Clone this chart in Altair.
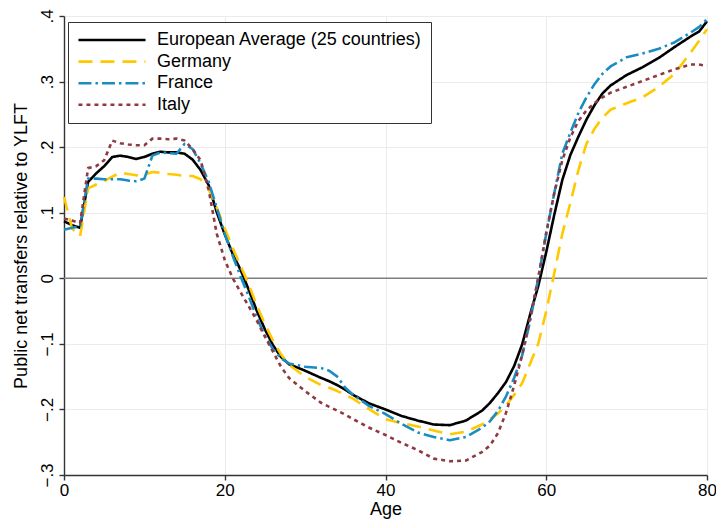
import altair as alt
import pandas as pd

# ---- data ----
ages = [0, 1, 2, 3, 4, 5, 6, 7, 8, 9, 10, 11, 12, 13, 14, 15, 16, 17, 18, 19, 20,
        21, 22, 23, 24, 25, 26, 27, 28, 30, 32, 33, 34, 35, 36, 38, 40, 42, 44, 46,
        48, 50, 52, 53, 54, 55, 56, 57, 58, 59, 60, 61, 62, 63, 64, 65, 66, 67, 68,
        70, 72, 74, 76, 78, 79, 80]

europe = [0.087, 0.081, 0.077, 0.147, 0.160, 0.171, 0.185, 0.187, 0.185, 0.182, 0.185,
          0.190, 0.193, 0.192, 0.192, 0.190, 0.181, 0.165, 0.142, 0.101, 0.067,
          0.037, 0.012, -0.018, -0.050, -0.078, -0.102, -0.120, -0.131, -0.141, -0.152,
          -0.157, -0.163, -0.170, -0.178, -0.191, -0.200, -0.210, -0.217, -0.223,
          -0.224, -0.217, -0.202, -0.190, -0.175, -0.158, -0.134, -0.101, -0.055, -0.012,
          0.040, 0.097, 0.150, 0.188, 0.216, 0.242, 0.264, 0.282, 0.294,
          0.310, 0.322, 0.336, 0.353, 0.369, 0.376, 0.392]

germany = [0.124, 0.076, 0.064, 0.137, 0.143, 0.148, 0.155, 0.161, 0.159, 0.157, 0.158,
           0.162, 0.161, 0.159, 0.158, 0.156, 0.156, 0.151, 0.136, 0.108, 0.076,
           0.046, 0.018, -0.010, -0.042, -0.070, -0.095, -0.116, -0.132, -0.150, -0.163,
           -0.167, -0.172, -0.178, -0.184, -0.200, -0.215, -0.221, -0.226, -0.232,
           -0.238, -0.234, -0.223, -0.215, -0.206, -0.194, -0.178, -0.160, -0.130, -0.100,
           -0.050, 0.008, 0.068, 0.115, 0.165, 0.205, 0.228, 0.245, 0.257,
           0.267, 0.276, 0.292, 0.312, 0.345, 0.362, 0.380]

france = [0.074, 0.077, 0.079, 0.152, 0.152, 0.151, 0.151, 0.151, 0.149, 0.148, 0.152,
          0.187, 0.192, 0.191, 0.190, 0.205, 0.197, 0.175, 0.147, 0.108, 0.068,
          0.034, 0.002, -0.028, -0.060, -0.088, -0.108, -0.122, -0.130, -0.135, -0.137,
          -0.141, -0.150, -0.167, -0.178, -0.195, -0.207, -0.222, -0.235, -0.242,
          -0.247, -0.242, -0.228, -0.218, -0.202, -0.180, -0.152, -0.118, -0.065, 0.000,
          0.068, 0.130, 0.190, 0.222, 0.252, 0.276, 0.296, 0.312, 0.323,
          0.337, 0.343, 0.350, 0.360, 0.375, 0.383, 0.395]

italy = [0.091, 0.088, 0.084, 0.168, 0.171, 0.180, 0.210, 0.206, 0.204, 0.203, 0.203,
         0.213, 0.213, 0.212, 0.213, 0.210, 0.197, 0.180, 0.135, 0.068, 0.028,
         0.000, -0.022, -0.043, -0.065, -0.089, -0.112, -0.135, -0.152, -0.172, -0.190,
         -0.196, -0.202, -0.208, -0.215, -0.228, -0.239, -0.251, -0.262, -0.275,
         -0.279, -0.278, -0.265, -0.255, -0.236, -0.205, -0.164, -0.117, -0.060, 0.000,
         0.070, 0.130, 0.180, 0.215, 0.240, 0.256, 0.267, 0.276, 0.283,
         0.292, 0.301, 0.310, 0.319, 0.326, 0.326, 0.324]

series_names = ["European Average (25 countries)", "Germany", "France", "Italy"]
x_ticks = [0, 20, 40, 60, 80]
y_ticks = [-0.3, -0.2, -0.1, 0.0, 0.1, 0.2, 0.3, 0.4]

# ---- styles ----
series_colors = ["#000000", "#FFC800", "#1A8CC4", "#8E3A42"]
series_dashes = [[1, 0], [14, 8], [13, 4, 2.5, 4], [4, 4]]
FONT = "Liberation Sans"

rows = []
for name, vals in zip(series_names, [europe, germany, france, italy]):
    for a, v in zip(ages, vals):
        rows.append({"age": a, "value": v, "series": name})
df = pd.DataFrame(rows)

legend = alt.Legend(
    title=None, orient="none", legendX=4, legendY=6,
    symbolType="stroke", symbolSize=4500, symbolStrokeWidth=2.6,
    clipHeight=18,
    labelFont=FONT, labelFontSize=18, labelColor="black", labelOffset=10,
    labelLimit=500, rowPadding=3.6, padding=9,
    strokeColor="#333333", fillColor="white",
)

x_enc = alt.X(
    "age:Q",
    scale=alt.Scale(domain=[0, 80], nice=False, zero=False),
    axis=alt.Axis(values=x_ticks, title="Age", labelPadding=2, titlePadding=2,
                  labelFlush=False, format="d"),
)
y_enc = alt.Y(
    "value:Q",
    scale=alt.Scale(domain=[-0.3, 0.4], nice=False, zero=False),
    axis=alt.Axis(
        values=y_ticks,
        title="Public net transfers relative to YLFT",
        labelAngle=270, labelAlign="center", labelBaseline="bottom",
        labelPadding=3, titlePadding=8, labelFlush=False,
        labelExpr="datum.value == 0 ? '0' : (datum.value < 0 ? '\u2212.' : '.') + format(abs(round(datum.value * 10)), 'd')",
    ),
)

zero_line = alt.Chart(pd.DataFrame({"y": [0.0]})).mark_rule(
    color="#7F7F7F", strokeWidth=1.6
).encode(y=alt.Y("y:Q", scale=alt.Scale(domain=[-0.3, 0.4], nice=False)))

lines = alt.Chart(df).mark_line(strokeWidth=2.6, strokeCap="butt", strokeJoin="round").encode(
    x=x_enc,
    y=y_enc,
    color=alt.Color("series:N", sort=series_names,
                    scale=alt.Scale(domain=series_names, range=series_colors),
                    legend=legend),
    strokeDash=alt.StrokeDash("series:N", sort=series_names,
                              scale=alt.Scale(domain=series_names, range=series_dashes),
                              legend=legend),
)

chart = alt.layer(zero_line, lines).properties(
    width=643, height=459,
    padding={"left": 56, "top": 8, "right": 9, "bottom": 45},
    autosize=alt.AutoSizeParams(type="none"),
    background="white",
).configure_view(stroke=None).configure_axis(
    domainColor="#333333", domainWidth=1.4,
    tickColor="#333333", tickWidth=1.4, tickSize=5,
    gridColor="#EBEBEB", gridWidth=1,
    labelFont=FONT, labelFontSize=17, labelColor="black",
    titleFont=FONT, titleFontSize=18, titleFontWeight="normal", titleColor="black",
)

chart.save("out.html", embed_options={"renderer": "svg", "actions": False})
